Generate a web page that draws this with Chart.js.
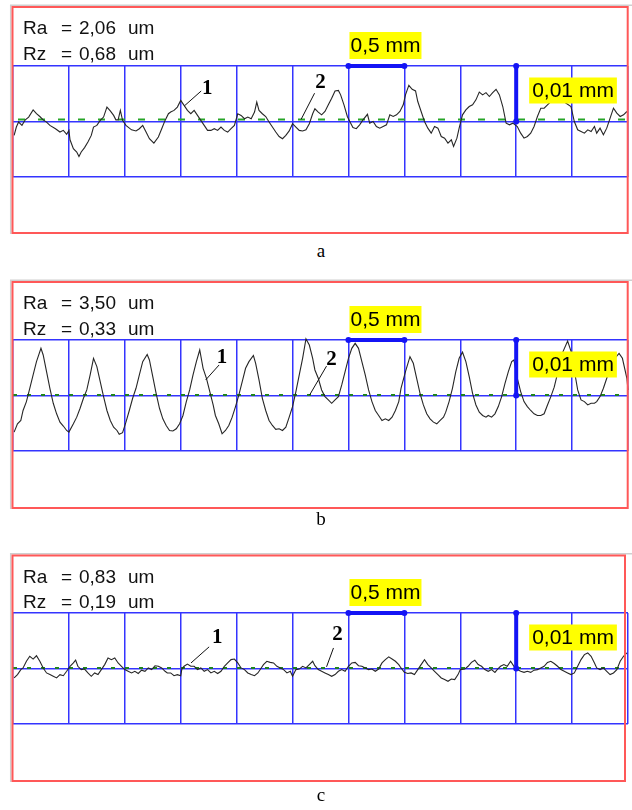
<!DOCTYPE html>
<html><head><meta charset="utf-8">
<script src="https://cdn.jsdelivr.net/npm/chart.js@4.4.1/dist/chart.umd.min.js"></script>
<style>
html,body{margin:0;padding:0;background:#fff;width:632px;height:810px;overflow:hidden;position:relative;}
canvas{position:absolute;left:0;}
.cap{position:absolute;left:0;width:642px;text-align:center;font-family:"Liberation Serif","Times New Roman",serif;font-size:19px;line-height:22px;color:#000;}
</style></head><body>
<canvas id="cA" width="632" height="240" style="top:0px"></canvas>
<canvas id="cB" width="632" height="245" style="top:270px"></canvas>
<canvas id="cC" width="632" height="245" style="top:545px"></canvas>
<div class="cap" style="top:240px">a</div>
<div class="cap" style="top:508px">b</div>
<div class="cap" style="top:784px">c</div>
<script>
// ---- data: x in mm, y in µm ----
const panelNames = ['a', 'b', 'c'];
const raValues = ['2,06', '3,50', '0,83'];
const rzValues = ['0,68', '0,33', '0,19'];
const gridStepMm = 0.5;      // one grid column = 0,5 mm
const gridStepUm = 10;       // one grid row = 0,01 mm
const lengthMm = 5.5;
const scaleBarH = [3.0, 3.5]; // 0,5 mm bar
const scaleBarV = [0, 10];    // 0,01 mm bar
const scaleBarVx = 4.5;

const profileA = [
[0.01,-2.5],[0.03,-1.0],[0.05,-0.1],[0.08,-0.7],[0.11,0.3],[0.14,0.8],[0.18,2.1],[0.21,1.4],[0.24,0.9],[0.27,0.3],
[0.30,-0.1],[0.33,-0.7],[0.38,-1.3],[0.42,-1.9],[0.45,-1.6],[0.48,-2.3],[0.50,-1.6],[0.51,-3.3],[0.54,-4.9],[0.57,-5.5],
[0.59,-6.3],[0.61,-5.5],[0.64,-4.7],[0.67,-3.7],[0.70,-2.5],[0.72,-1.0],[0.75,-0.7],[0.78,0.2],[0.81,0.8],[0.84,2.6],
[0.87,1.9],[0.90,1.1],[0.92,0.3],[0.94,0.3],[0.96,2.0],[0.98,0.2],[1.01,-0.7],[1.06,-1.5],[1.10,-1.7],[1.13,-1.3],
[1.16,-0.7],[1.19,-1.9],[1.22,-3.1],[1.26,-3.9],[1.30,-2.8],[1.33,-1.3],[1.36,0.2],[1.39,1.4],[1.41,1.7],[1.44,2.0],
[1.47,2.6],[1.50,3.8],[1.53,2.9],[1.56,2.0],[1.59,1.4],[1.62,2.0],[1.65,1.1],[1.68,0.2],[1.71,-0.7],[1.74,-1.6],
[1.77,-1.6],[1.80,-1.3],[1.83,-1.6],[1.86,-1.0],[1.89,-1.6],[1.92,-1.9],[1.95,-1.3],[1.98,-0.7],[2.01,1.4],[2.04,1.1],
[2.07,0.5],[2.10,0.8],[2.13,0.5],[2.16,1.7],[2.18,3.5],[2.20,2.0],[2.23,1.4],[2.26,0.9],[2.29,-0.1],[2.32,-1.0],
[2.35,-1.9],[2.38,-2.7],[2.41,-3.1],[2.44,-2.5],[2.47,-1.7],[2.50,-0.4],[2.53,-1.0],[2.56,-1.6],[2.59,-1.7],[2.62,-1.5],
[2.65,-0.4],[2.68,1.4],[2.70,2.3],[2.73,1.7],
[2.76,1.2],[2.79,1.8],[2.82,3.0],[2.85,4.2],[2.88,5.5],[2.91,5.6],[2.93,4.8],[2.96,3.0],[2.99,0.9],[3.02,-0.3],
[3.04,-1.1],[3.07,-1.3],[3.10,-0.6],[3.13,0.3],[3.17,1.3],[3.19,-0.3],[3.22,0],[3.25,-0.9],[3.28,-1.2],[3.31,-0.9],
[3.34,-0.6],[3.37,1.2],[3.40,0.9],[3.43,1.2],[3.46,1.8],[3.49,3.0],[3.51,4.8],[3.54,6.5],[3.57,5.8],[3.60,5.5],
[3.62,3.6],[3.65,1.8],[3.68,0],[3.71,-1.2],[3.74,-2.1],[3.77,-0.9],[3.80,-1.2],[3.83,-2.7],[3.86,-3.0],[3.89,-3.9],
[3.92,-3.3],[3.94,-4.5],[3.97,-3.0],[3.99,-1.2],[4.02,1.2],[4.05,2.1],[4.08,2.7],[4.11,3.0],[4.14,3.9],[4.17,5.3],
[4.20,4.8],[4.23,5.2],[4.26,4.5],[4.29,5.2],[4.32,5.8],[4.35,4.8],[4.38,2.7],[4.41,-0.3],[4.44,-0.6],[4.47,-0.3],
[4.51,-0.9],[4.54,-2.1],[4.57,-3.0],[4.60,-2.7],[4.63,-2.1],[4.66,-0.9],[4.69,0.9],[4.72,2.4],[4.75,2.4],[4.78,3.0],
[4.81,3.6],[4.87,4.0],[4.93,3.5],[4.99,2.7],[5.02,0],[5.05,-1.5],[5.08,-1.8],[5.11,-2.1],[5.14,-1.5],[5.17,-1.8],
[5.20,-0.9],[5.22,-2.1],[5.25,-1.2],[5.28,-2.4],[5.31,-1.2],[5.34,0.6],[5.37,2.4],[5.40,1.5],[5.43,0.9],[5.46,1.2],[5.49,1.8]
];

const profileB = [
[0.01,-6.6],[0.04,-5.1],[0.07,-4.5],[0.09,-2.7],[0.12,-1.1],[0.15,1.3],[0.18,3.7],[0.21,6.1],[0.25,8.5],[0.27,7.3],
[0.30,4.3],[0.33,1.3],[0.36,-1.4],[0.39,-3.3],[0.42,-4.8],[0.45,-5.5],[0.48,-6.3],[0.50,-6.6],[0.54,-5.1],[0.57,-3.9],
[0.60,-2.3],[0.63,-0.5],[0.66,1.0],[0.69,3.7],[0.72,6.7],[0.75,5.2],[0.78,2.5],[0.81,-0.2],[0.84,-2.7],[0.87,-4.5],
[0.90,-5.7],[0.93,-6.3],[0.95,-7.0],[0.98,-6.7],[1.01,-4.8],[1.04,-2.7],[1.07,-0.5],[1.10,1.3],[1.13,3.7],[1.16,6.1],
[1.20,7.4],[1.22,6.4],[1.25,3.4],[1.28,0.4],[1.31,-2.3],[1.34,-4.2],[1.37,-5.4],[1.40,-6.3],[1.43,-6.4],[1.46,-6.0],
[1.49,-5.1],[1.52,-3.6],[1.55,-1.1],[1.58,1.0],[1.61,3.7],[1.64,6.1],[1.67,8.2],[1.70,4.9],[1.73,3.1],[1.76,0.7],
[1.79,-1.7],[1.81,-3.6],[1.84,-5.1],[1.87,-6.9],[1.90,-6.3],[1.93,-5.4],[1.96,-3.9],[1.99,-2.0],[2.02,0.1],[2.05,2.5],
[2.08,4.9],[2.11,6.1],[2.15,7.2],[2.17,5.8],[2.20,2.8],[2.23,-0.5],[2.26,-2.7],[2.29,-4.5],[2.32,-5.4],[2.35,-6.1],
[2.38,-6.0],[2.41,-6.3],[2.44,-5.7],[2.47,-3.9],[2.50,-2.0],[2.53,0.7],[2.56,3.7],[2.59,6.7],[2.62,10.2],[2.65,9.1],
[2.68,6.7],[2.70,4.6],[2.73,3.1],
[2.76,1.0],[2.79,-0.2],[2.82,-0.8],[2.85,-1.4],[2.88,-0.8],[2.91,-0.2],[2.94,1.9],[2.97,4.3],[3.00,6.7],[3.03,8.5],
[3.06,9.4],[3.09,8.5],[3.12,6.1],[3.15,3.7],[3.18,1.0],[3.21,-1.1],[3.24,-2.7],[3.27,-3.6],[3.30,-4.5],[3.33,-4.2],
[3.36,-4.5],[3.39,-3.9],[3.42,-2.7],[3.45,-1.1],[3.47,1.3],[3.51,4.3],[3.55,7.0],[3.58,5.8],[3.61,3.1],[3.64,0.4],
[3.67,-1.7],[3.70,-3.3],[3.73,-4.2],[3.76,-4.8],[3.79,-5.1],[3.82,-4.5],[3.85,-3.9],[3.87,-3.0],[3.90,-1.1],[3.93,1.3],
[3.96,4.3],[3.99,6.7],[4.02,7.8],[4.05,6.1],[4.08,3.4],[4.11,0.4],[4.14,-1.7],[4.17,-3.0],[4.20,-3.6],[4.23,-3.9],
[4.25,-3.6],[4.28,-3.9],[4.31,-3.3],[4.34,-2.0],[4.37,-0.2],[4.40,2.2],[4.43,4.3],[4.46,6.1],[4.48,6.4],[4.51,3.1],
[4.54,0.7],[4.57,-1.1],[4.60,-2.0],[4.63,-2.7],[4.66,-3.3],[4.69,-3.6],[4.72,-3.6],[4.75,-3.3],[4.78,-1.7],[4.81,-0.2],
[4.84,1.5],[4.87,4.0],[4.91,7.5],[4.96,9.8],[4.99,8.0],[5.02,4.5],[5.05,1.0],[5.08,-0.8],[5.11,-1.1],[5.14,-1.7],
[5.17,-1.4],[5.20,-1.4],[5.22,-1.1],[5.25,-0.2],[5.28,1.3],[5.31,3.1],[5.34,4.9],[5.37,6.4],[5.42,7.6],[5.45,6.7],
[5.49,3.1],[5.50,1.0]
];

const profileC = [
[0.01,-1.7],[0.04,-1.1],[0.07,-0.2],[0.09,0.1],[0.12,1.3],[0.15,2.2],[0.18,1.7],[0.21,2.3],[0.24,1.3],[0.27,0.1],
[0.30,-0.8],[0.33,-1.1],[0.36,-1.4],[0.39,-1.7],[0.42,-1.1],[0.45,-1.3],[0.48,-0.5],[0.51,0.4],[0.54,1.0],[0.56,1.5],
[0.58,0.4],[0.61,-0.2],[0.64,-0.1],[0.67,-0.8],[0.70,-1.4],[0.73,-0.8],[0.76,-1.1],[0.79,-0.2],[0.82,0.7],[0.85,1.9],
[0.88,1.6],[0.91,1.9],[0.94,1.0],[0.97,0.4],[1.00,-0.2],[1.03,-0.5],[1.06,-0.8],[1.09,-0.5],[1.12,-0.9],[1.15,-0.3],
[1.18,-0.5],[1.21,0.1],[1.24,-0.2],[1.27,0.5],[1.30,0.4],[1.33,0.1],[1.36,-0.5],[1.38,-0.8],[1.41,-0.8],[1.44,-1.3],
[1.47,-1.1],[1.50,-1.3],[1.51,-0.1],[1.53,0.4],[1.56,0.8],[1.59,0.4],[1.62,0.4],[1.65,-0.2],[1.68,0.1],[1.71,-0.5],
[1.74,-0.2],[1.77,-0.8],[1.80,-0.5],[1.83,-0.9],[1.86,-0.5],[1.89,0.4],[1.92,1.0],[1.95,1.6],[1.98,1.7],[2.01,1.0],
[2.04,0.1],[2.07,-0.2],[2.10,-0.8],[2.13,-1.1],[2.16,-1.3],[2.19,-0.8],[2.22,0.1],[2.24,0.7],[2.27,1.3],[2.30,1.1],
[2.33,1.0],[2.36,0.4],[2.39,0.1],[2.42,-0.2],[2.45,-0.8],[2.48,-0.5],[2.50,-1.4],[2.53,-0.2],[2.56,-0.1],[2.59,0.4],
[2.62,0.1],[2.65,0.7],[2.68,1.3],[2.70,0.5],[2.73,-0.2],
[2.76,-0.5],[2.79,-0.8],[2.82,-1.1],[2.85,-1.4],[2.88,-1.1],[2.91,-0.5],[2.94,-0.2],[2.97,-0.5],[3.00,0.4],[3.03,1.0],
[3.06,1.1],[3.09,0.5],[3.12,0.4],[3.15,0.1],[3.18,-0.2],[3.21,-0.1],[3.24,-0.5],[3.27,-0.1],[3.30,1.0],[3.33,1.6],
[3.36,2.1],[3.39,1.7],[3.42,1.3],[3.45,0.7],[3.47,0.1],[3.50,-0.7],[3.53,-0.9],[3.56,-0.8],[3.59,-1.1],[3.62,-0.2],
[3.65,0.7],[3.68,1.6],[3.71,0.7],[3.74,0.1],[3.77,-0.5],[3.80,-1.1],[3.83,-1.7],[3.86,-2.0],[3.89,-2.3],[3.92,-1.9],
[3.95,-2.0],[3.98,-1.1],[4.00,-0.2],[4.04,-0.1],[4.07,0.4],[4.10,1.1],[4.13,1.5],[4.16,0.7],[4.19,0.4],[4.22,-0.2],
[4.25,-0.5],[4.28,-0.2],[4.31,-0.7],[4.33,-0.2],[4.36,0.4],[4.39,0.7],[4.42,0.4],[4.45,1.3],[4.48,0.4],[4.51,-0.2],
[4.54,-0.5],[4.57,-0.7],[4.60,-0.5],[4.63,-0.7],[4.66,-0.3],[4.69,-0.2],[4.72,0.1],[4.75,0.4],[4.78,1.1],[4.81,1.3],
[4.84,0.9],[4.87,0.4],[4.90,-0.2],[4.93,-0.5],[4.96,-0.8],[4.99,-1.1],[5.02,-0.8],[5.05,0.4],[5.08,1.6],[5.11,2.5],
[5.14,2.8],[5.17,2.2],[5.20,1.0],[5.22,0.1],[5.25,-0.2],[5.28,0.1],[5.31,-0.5],[5.34,-1.1],[5.37,-0.8],[5.40,-0.2],
[5.43,1.3],[5.46,2.2],[5.49,2.8]
];

// ---- styling / layout ----
const BLUE = 'rgb(52,52,255)';
const BAR_BLUE = 'rgb(20,20,245)';
const RED = 'rgb(255,88,88)';
const panels = [
  { id:'cA', profile:profileA, padTop:66, padBottom:63, frameTop:59, frameBottom:56, frameRight:0.3,
    green:{y:0.35, color:'rgb(40,165,40)', dash:[7,13], offset:15},
    callouts:[{t:'1', from:[1.532,2.8], to:[1.683,5.5], at:[1.737,6.0]},
              {t:'2', from:[2.577,0.4], to:[2.697,5.1], at:[2.751,7.1]}] },
  { id:'cB', profile:profileB, padTop:70, padBottom:64, frameTop:58, frameBottom:57, frameRight:0.3,
    green:{y:0.1, color:'rgb(30,130,30)', dash:[4,10], offset:0},
    callouts:[{t:'1', from:[1.723,2.8], to:[1.843,5.5], at:[1.870,6.8]},
              {t:'2', from:[2.653,0.1], to:[2.804,5.3], at:[2.849,6.4]}] },
  { id:'cC', profile:profileC, padTop:68, padBottom:66, frameTop:57.5, frameBottom:57, frameRight:3,
    green:{y:0.1, color:'rgb(30,130,30)', dash:[4,10], offset:0},
    callouts:[{t:'1', from:[1.592,1.0], to:[1.754,3.9], at:[1.826,5.5]},
              {t:'2', from:[2.804,0.3], to:[2.866,3.7], at:[2.902,6.2]}] }
];

function decor(p, idx) {
  return {
    id: 'decor' + idx,
    afterDatasetsDraw(chart) {
      const ctx = chart.ctx, xs = chart.scales.x, ys = chart.scales.y, ca = chart.chartArea;
      ctx.save();
      // yellow tags
      function tag(text, x, yTop, h, padX) {
        ctx.font = '21px "Liberation Sans", Arial, sans-serif';
        const w = ctx.measureText(text).width;
        ctx.fillStyle = '#ffff00';
        ctx.fillRect(x, yTop, w + padX * 2, h);
        ctx.fillStyle = '#000';
        ctx.textAlign = 'left'; ctx.textBaseline = 'middle';
        ctx.fillText(text, x + padX, yTop + h / 2 + 1);
      }
      tag('0,5 mm', xs.getPixelForValue(scaleBarH[0]) + 1, ys.getPixelForValue(10) - 34, 27, 1);
      tag('0,01 mm', xs.getPixelForValue(scaleBarVx) + 13, ys.getPixelForValue(0) - 44, 26, 3);
      // callouts
      p.callouts.forEach(c => {
        ctx.strokeStyle = '#111'; ctx.lineWidth = 1;
        ctx.beginPath();
        ctx.moveTo(xs.getPixelForValue(c.from[0]), ys.getPixelForValue(c.from[1]));
        ctx.lineTo(xs.getPixelForValue(c.to[0]), ys.getPixelForValue(c.to[1]));
        ctx.stroke();
        ctx.font = 'bold 21px "Liberation Serif", "Times New Roman", serif';
        ctx.fillStyle = '#000'; ctx.textAlign = 'center'; ctx.textBaseline = 'middle';
        ctx.fillText(c.t, xs.getPixelForValue(c.at[0]), ys.getPixelForValue(c.at[1]));
      });
      // frame
      const fTop = ca.top - p.frameTop, fBot = ca.bottom + p.frameBottom;
      const fL = ca.left - 0.5, fR = ca.right - p.frameRight;
      ctx.strokeStyle = '#cfcfcf'; ctx.lineWidth = 1.5;
      ctx.beginPath(); ctx.moveTo(fL - 1.8, fBot + 1); ctx.lineTo(fL - 1.8, fTop - 1.8); ctx.lineTo(632, fTop - 1.8); ctx.stroke();
      ctx.strokeStyle = RED; ctx.lineWidth = 2;
      ctx.strokeRect(fL, fTop, fR - fL, fBot - fTop);
      // Ra / Rz
      ctx.font = '19px "Liberation Sans", Arial, sans-serif';
      ctx.fillStyle = '#111'; ctx.textAlign = 'left'; ctx.textBaseline = 'alphabetic';
      const rows = [['Ra', raValues[idx]], ['Rz', rzValues[idx]]];
      rows.forEach((r, k) => {
        const yb = fTop + 27 + k * 25.5;
        ctx.fillText(r[0], ca.left + 10, yb);
        ctx.fillText('=', ca.left + 48, yb);
        ctx.fillText(r[1], ca.left + 66, yb);
        ctx.fillText('um', ca.left + 115, yb);
      });
      ctx.restore();
    }
  };
}

panels.forEach((p, idx) => {
  new Chart(document.getElementById(p.id), {
    type: 'line',
    data: { datasets: [
      { data: scaleBarH.map(v => ({x: v, y: 10})), borderColor: BAR_BLUE, backgroundColor: BAR_BLUE,
        borderWidth: 4, pointRadius: 3, pointBackgroundColor: BAR_BLUE, pointBorderWidth: 0, clip: false },
      { data: scaleBarV.map(v => ({x: scaleBarVx, y: v})), borderColor: BAR_BLUE, backgroundColor: BAR_BLUE,
        borderWidth: 4, pointRadius: 3, pointBackgroundColor: BAR_BLUE, pointBorderWidth: 0, clip: false },
      { data: p.profile.map(d => ({x: d[0], y: d[1]})), borderColor: '#262626', borderWidth: 1.1,
        pointRadius: 0, clip: false },
      { data: [{x: 0, y: p.green.y}, {x: lengthMm, y: p.green.y}], borderColor: p.green.color,
        borderWidth: 2, borderDash: p.green.dash, borderDashOffset: p.green.offset, pointRadius: 0 }
    ]},
    options: {
      responsive: false, animation: false, devicePixelRatio: 1,
      parsing: true,
      layout: { padding: { left: 13, right: 1, top: p.padTop, bottom: p.padBottom } },
      elements: { line: { tension: 0 } },
      plugins: { legend: { display: false }, tooltip: { enabled: false } },
      events: [],
      scales: {
        x: { type: 'linear', min: 0, max: lengthMm,
             ticks: { display: false, stepSize: gridStepMm },
             grid: { color: BLUE, lineWidth: 1.5, drawTicks: false }, border: { display: false } },
        y: { type: 'linear', min: -gridStepUm, max: gridStepUm,
             ticks: { display: false, stepSize: gridStepUm },
             grid: { color: BLUE, lineWidth: 1.5, drawTicks: false }, border: { display: false } }
      }
    },
    plugins: [decor(p, idx)]
  });
});
</script>
</body></html>
